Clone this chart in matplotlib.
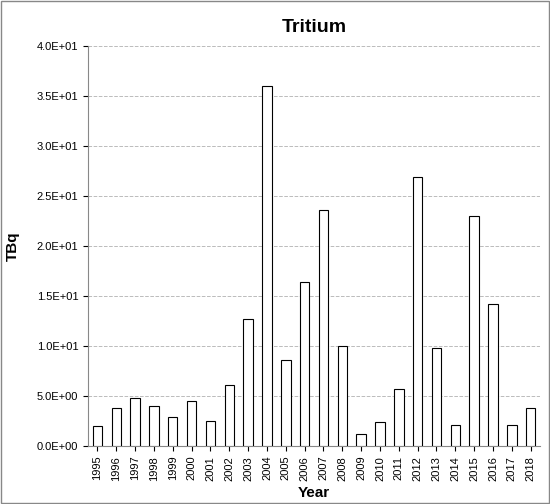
import matplotlib
matplotlib.use('Agg')
import matplotlib.pyplot as plt
from matplotlib.ticker import FuncFormatter

years = [str(y) for y in range(1995, 2019)]
tbq = [2.0, 3.8, 4.8, 4.0, 2.9, 4.5, 2.5, 6.1, 12.7, 36.0, 8.6, 16.4,
       23.6, 10.0, 1.2, 2.4, 5.7, 26.9, 9.8, 2.1, 23.0, 14.2, 2.1, 3.8]

plt.rcParams['font.family'] = ['Liberation Sans', 'DejaVu Sans']

fig = plt.figure(figsize=(5.5, 5.04), dpi=100)
fig.patches.append(plt.Rectangle((0.002, 0.002), 0.996, 0.996, transform=fig.transFigure,
                                 fill=False, edgecolor='#888888', linewidth=1))
ax = fig.add_axes([0.16, 0.115, 0.822, 0.794])

ax.bar(range(len(years)), tbq, width=0.5, color='white', edgecolor='black', linewidth=0.8, zorder=3)
ax.set_xlim(-0.5, len(years) - 0.5)
ax.set_ylim(0, 40)
ax.set_yticks(range(0, 41, 5))
ax.yaxis.set_major_formatter(FuncFormatter(lambda v, p: f"{v:.1E}".replace("E+0", "E+0")))
ax.set_xticks(range(len(years)))
ax.set_xticklabels(years, rotation=90, fontsize=8)
ax.tick_params(axis='y', labelsize=8)
ax.grid(axis='y', linestyle='--', color='#bbbbbb', linewidth=0.7, zorder=0)
for s in ['top', 'right']:
    ax.spines[s].set_visible(False)
ax.spines['left'].set_color('#888888')
ax.spines['bottom'].set_color('#888888')

ax.set_title('Tritium', fontsize=14, fontweight='bold', pad=10)
ax.set_xlabel('Year', fontsize=11, fontweight='bold')
ax.set_ylabel('TBq', fontsize=11, fontweight='bold', labelpad=12)

fig.savefig('out.png', dpi=100)
